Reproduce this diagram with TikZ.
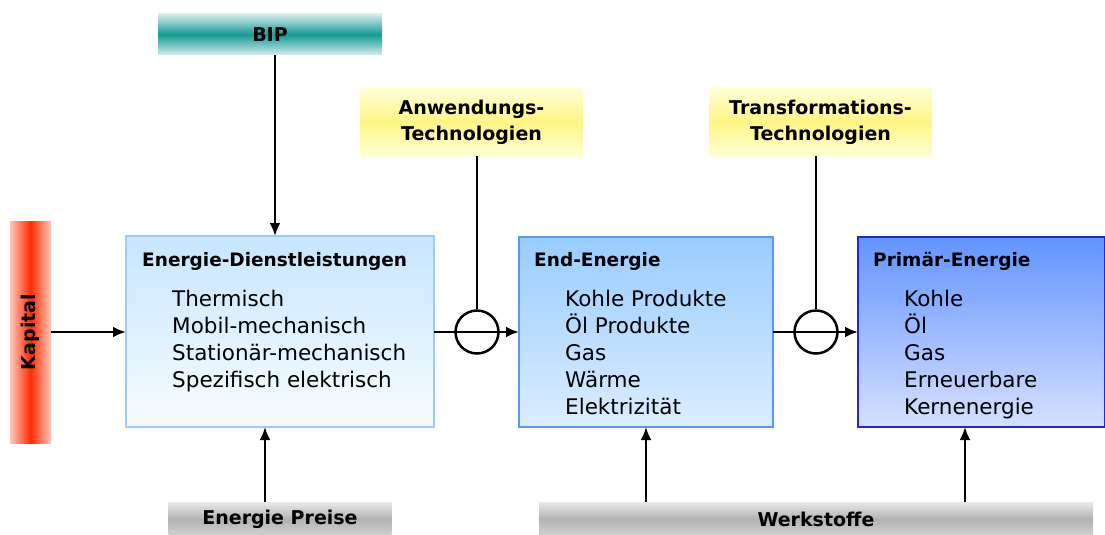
\documentclass[tikz,border=0pt]{standalone}
\usepackage{fontspec}
\setmainfont{DejaVu Sans}
\usetikzlibrary{arrows.meta}
\definecolor{tealm}{rgb}{0.08,0.60,0.58}
\definecolor{teale}{rgb}{0.84,0.93,0.93}
\definecolor{redm}{rgb}{1.0,0.17,0.0}
\definecolor{rede}{rgb}{1.0,0.78,0.74}
\definecolor{yelm}{rgb}{1.0,0.96,0.52}
\definecolor{yele}{rgb}{1.0,1.0,0.84}
\definecolor{graym}{rgb}{0.70,0.70,0.70}
\definecolor{graye}{rgb}{0.91,0.91,0.91}
\tikzset{
  lbl/.style={font=\fontsize{19}{26}\selectfont\bfseries},
  itm/.style={font=\fontsize{21.5}{24}\selectfont, anchor=base west, inner sep=0pt},
  ttl/.style={font=\fontsize{18.5}{22}\selectfont\bfseries, anchor=base west, inner sep=0pt},
  conn/.style={line width=2.5pt, -{Latex[length=13pt,width=11pt]}},
  plain/.style={line width=2.5pt},
  ring/.style={circle, draw, line width=2.5pt, minimum size=43pt, inner sep=0pt},
}
\begin{document}
\begin{tikzpicture}[x=1pt,y=-1pt]
\useasboundingbox (0,0) rectangle (1105,535);
% bars
\node[lbl, minimum width=224pt, minimum height=41pt, top color=teale, bottom color=teale, middle color=tealm, inner sep=0pt] (bip) at (270,34.5) {BIP};
\path[left color=rede, right color=rede, middle color=redm] (10,221) rectangle (51,443);
\node[lbl, rotate=90, minimum width=222pt, minimum height=41pt, inner sep=0pt] (kap) at (30.5,332) {Kapital};
\node[lbl, align=center, minimum width=223pt, minimum height=68pt, inner sep=0pt, top color=yele, bottom color=yele, middle color=yelm] (anw) at (471.5,122) {Anwendungs-\\Technologien};
\node[lbl, align=center, minimum width=223pt, minimum height=68pt, inner sep=0pt, top color=yele, bottom color=yele, middle color=yelm] (trf) at (820.5,122) {Transformations-\\Technologien};
\node[lbl, minimum width=223pt, minimum height=33pt, inner sep=0pt, top color=graye, bottom color=graye!90!black, middle color=graym] (prs) at (280,519) {Energie Preise};
\node[lbl, minimum width=554pt, minimum height=33pt, inner sep=0pt, top color=graye, bottom color=graye!90!black, middle color=graym] (wrk) at (816,519) {Werkstoffe};
% boxes
\path[draw={rgb,1:red,0.6;green,0.8;blue,1}, line width=1.2pt, top color={rgb,1:red,0.78;green,0.9;blue,1}, bottom color={rgb,1:red,0.97;green,0.99;blue,1}] (126,236) rectangle (434,427);
\path[draw={rgb,1:red,0.35;green,0.6;blue,0.95}, line width=1.2pt, top color={rgb,1:red,0.6;green,0.8;blue,1}, bottom color={rgb,1:red,0.86;green,0.93;blue,1}] (519,237) rectangle (773,427);
\path[draw={rgb,1:red,0.15;green,0.15;blue,0.8}, line width=1.4pt, top color={rgb,1:red,0.38;green,0.58;blue,1}, bottom color={rgb,1:red,0.84;green,0.88;blue,1}] (858,237) rectangle (1105,427);
\coordinate (b1n) at (275,236); \coordinate (b1s) at (265,427); \coordinate (b1w) at (126,332); \coordinate (b1e) at (434,332);
\coordinate (b2s) at (646,427); \coordinate (b2w) at (519,332); \coordinate (b2e) at (773,332);
\coordinate (b3s) at (965,427); \coordinate (b3w) at (858,332);
% box texts
\node[ttl] (t1) at (142,266) {Energie-Dienstleistungen};
\node[itm] (a1) at (172,306) {Thermisch};
\node[itm] (a2) at (172,333) {Mobil-mechanisch};
\node[itm] (a3) at (172,360) {Stationär-mechanisch};
\node[itm] (a4) at (172,387) {Spezifisch elektrisch};
\node[ttl] (t2) at (534,266) {End-Energie};
\node[itm] (c1) at (565,306) {Kohle Produkte};
\node[itm] (c2) at (565,333) {Öl Produkte};
\node[itm] (c3) at (565,360) {Gas};
\node[itm] (c4) at (565,387) {Wärme};
\node[itm] (c5) at (565,414) {Elektrizität};
\node[ttl] (t3) at (873,266) {Primär-Energie};
\node[itm] (d1) at (904,306) {Kohle};
\node[itm] (d2) at (904,333) {Öl};
\node[itm] (d3) at (904,360) {Gas};
\node[itm] (d4) at (904,387) {Erneuerbare};
\node[itm] (d5) at (904,414) {Kernenergie};
% rings
\node[ring] (r1) at (477,332) {};
\node[ring] (r2) at (816,332) {};
% connectors
\draw[conn] (bip.south -| b1n) -- (b1n);
\draw[conn] (kap.south |- b1w) -- (b1w);
\draw[conn] (prs.north -| b1s) -- (b1s);
\draw[conn] (wrk.north -| b2s) -- (b2s);
\draw[conn] (wrk.north -| b3s) -- (b3s);
\draw[conn] (b1e) -- (b2w);
\draw[conn] (b2e) -- (b3w);
\draw[plain] (anw.south -| r1) -- (r1.north);
\draw[plain] (trf.south -| r2) -- (r2.north);
\end{tikzpicture}
\end{document}
